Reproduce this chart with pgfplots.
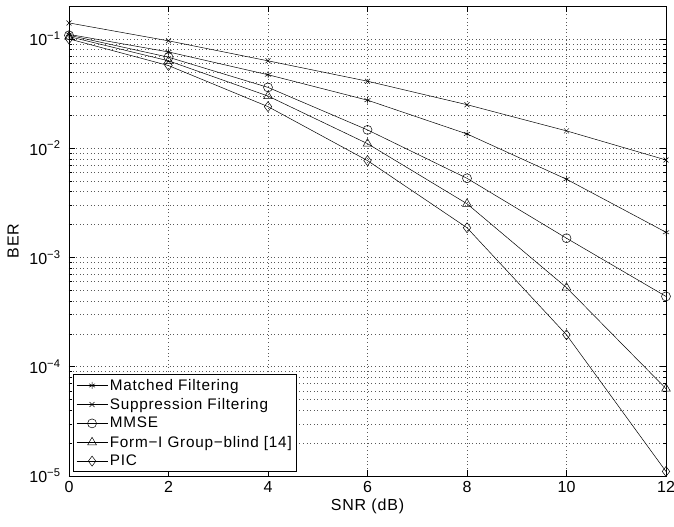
\documentclass[border=0pt]{standalone}
\usepackage{pgfplots}
\pgfplotsset{compat=1.18}
\usepackage{fontspec}
\setmainfont{Liberation Sans}
\newfontfamily\lsfont{Liberation Sans}[LetterSpace=5]
\begin{document}
\begin{tikzpicture}
\begin{axis}[
  scale only axis,
  width=597bp, height=470bp,
  xmin=0, xmax=12,
  ymode=log, log basis y=10,
  ymin=1e-5, ymax=0.2,
  xtick={0,2,4,6,8,10,12},
  ytick={1e-5,1e-4,1e-3,1e-2,1e-1},
  minor ytick={2e-5,3e-5,4e-5,5e-5,6e-5,7e-5,8e-5,9e-5,
               2e-4,3e-4,4e-4,5e-4,6e-4,7e-4,8e-4,9e-4,
               2e-3,3e-3,4e-3,5e-3,6e-3,7e-3,8e-3,9e-3,
               2e-2,3e-2,4e-2,5e-2,6e-2,7e-2,8e-2,9e-2,2e-1},
  yticklabels={10\textsuperscript{−5},10\textsuperscript{−4},10\textsuperscript{−3},10\textsuperscript{−2},10\textsuperscript{−1}},
  /pgf/number format/assume math mode=true,
  tick label style={font=\fontsize{16bp}{18bp}\selectfont},
  xticklabel style={yshift=-1.5bp},
  yticklabel style={xshift=-5bp},
  xlabel={SNR (dB)},
  ylabel={BER},
  xlabel style={font=\lsfont\fontsize{16bp}{18bp}\selectfont, at={(axis description cs:0.5,-0.0638)}, anchor=center},
  ylabel style={font=\lsfont\fontsize{16bp}{18bp}\selectfont, at={(axis description cs:-0.0938,0.5)}, anchor=center},
  grid=both,
  major grid style={dash pattern=on 0.8bp off 2.8bp, black!65, line width=0.5bp},
  minor grid style={dash pattern=on 0.8bp off 2.8bp, black!65, line width=0.5bp},
  tick align=inside,
  xtick pos=both, ytick pos=both,
  major tick length=6bp, minor tick length=3bp,
  axis line style={black, line width=0.7bp},
  every tick/.style={black, line width=0.5bp},
  legend style={at={(axis description cs:0.0067,0.0085)}, anchor=south west, draw=black, line width=0.6bp,
    font=\lsfont\fontsize{15.3bp}{17bp}\selectfont, row sep=2.5bp, inner xsep=3bp, inner ysep=2.5bp},
  legend cell align=left,
  legend image code/.code={\draw[mark repeat=2,mark phase=2,#1] plot coordinates {(0bp,0bp) (15.5bp,0bp) (31bp,0bp)};},
  every axis plot/.append style={black, line width=0.5bp, mark options={solid}},
]
\addplot[mark=asterisk, mark size=3.5bp] coordinates {(0,0.11) (2,0.076) (4,0.047) (6,0.0275) (8,0.0135) (10,0.0052) (12,0.0017)};
\addlegendentry{Matched Filtering}
\addplot[mark=x, mark size=3.5bp] coordinates {(0,0.14) (2,0.096) (4,0.063) (6,0.041) (8,0.025) (10,0.0144) (12,0.0078)};
\addlegendentry{Suppression Filtering}
\addplot[mark=o, mark size=4.5bp] coordinates {(0,0.108) (2,0.068) (4,0.036) (6,0.0147) (8,0.0053) (10,0.0015) (12,0.00044)};
\addlegendentry{MMSE}
\addplot[mark=triangle, mark size=5bp] coordinates {(0,0.105) (2,0.063) (4,0.030) (6,0.011) (8,0.0031) (10,0.00053) (12,0.000063)};
\addlegendentry{Form−I Group−blind [14]}
\addplot[mark=diamond, mark size=5bp] coordinates {(0,0.10) (2,0.057) (4,0.024) (6,0.0077) (8,0.00187) (10,0.000196) (12,0.000011)};
\addlegendentry{PIC}
\end{axis}
\pgfresetboundingbox
\path ([shift={(-69bp,-51bp)}]current axis.south west) rectangle ([shift={(8bp,6bp)}]current axis.north east);
\end{tikzpicture}
\end{document}
